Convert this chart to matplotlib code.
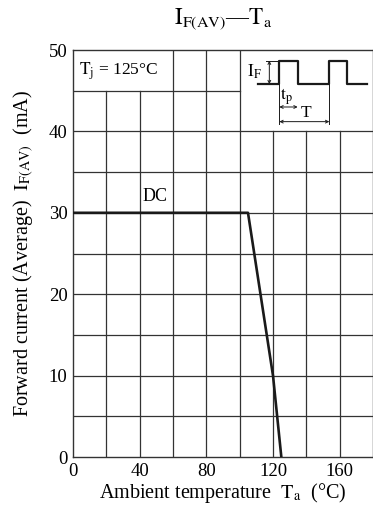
import matplotlib
matplotlib.use("Agg")
import matplotlib.pyplot as plt

# derating curve, Tj = 125 C
temp = [0, 105, 120, 125]
current = [30, 30, 10, 0]

x_ticks = [0, 40, 80, 120, 160]
y_ticks = [0, 10, 20, 30, 40, 50]
grid_x = [20, 40, 60, 80, 100, 120, 140, 160]
grid_y = [5, 10, 15, 20, 25, 30, 35, 40, 45]

# pulse waveform drawn in the inset corner (data coords)
pulse_x = [111, 123.8, 123.8, 134.8, 134.8, 153.8, 153.8, 164.6, 164.6, 176.4]
pulse_y = [45.8, 45.8, 48.7, 48.7, 45.8, 45.8, 48.7, 48.7, 45.8, 45.8]

plt.rcParams["font.family"] = ["Liberation Serif", "DejaVu Serif"]
plt.rcParams["mathtext.fontset"] = "stix"

fig = plt.figure(figsize=(3.73, 5.15), dpi=100)
ax = fig.add_axes([0.1957, 0.1126, 0.8043, 0.7903])
ax.set_xlim(0, 180)
ax.set_ylim(0, 50)

gc = "#333333"
glw = 0.9
for gx in grid_x:
    if gx < 60:
        top = 45
    elif gx > 100:
        top = 40
    else:
        top = 50
    ax.plot([gx, gx], [0, top], color=gc, lw=glw, zorder=1)
for gy in grid_y:
    if gy > 40:
        ax.plot([0, 100], [gy, gy], color=gc, lw=glw, zorder=1)
    else:
        ax.plot([0, 180], [gy, gy], color=gc, lw=glw, zorder=1)

for s in ax.spines.values():
    s.set_color(gc)
    s.set_linewidth(1.0)

ax.plot(temp, current, color="#1a1a1a", lw=1.9, zorder=3)

ax.set_xticks(x_ticks)
ax.set_yticks(y_ticks)
ax.tick_params(length=0, labelsize=13.5, pad=4)

ax.text(49.5, 31.0, "DC", fontsize=13, ha="center", va="bottom")
ax.text(3.5, 47.4, r"$\mathrm{T_j}$ = 125°C", fontsize=12.5, ha="left", va="center")

# inset waveform
ax.plot(pulse_x, pulse_y, color="#1a1a1a", lw=1.6, zorder=3)
ax.plot([123.8, 123.8], [45.8, 40.9], color="#1a1a1a", lw=0.7)
ax.plot([153.8, 153.8], [45.8, 40.9], color="#1a1a1a", lw=0.7)
ap = dict(arrowstyle="<->", lw=0.7, color="#1a1a1a", shrinkA=0, shrinkB=0,
          mutation_scale=5)
ax.annotate("", xy=(117.8, 48.7), xytext=(117.8, 45.8), arrowprops=ap)
ax.plot([116, 123.8], [48.7, 48.7], color="#1a1a1a", lw=0.7)
ax.annotate("", xy=(123.8, 43.0), xytext=(134.8, 43.0), arrowprops=ap)
ax.annotate("", xy=(123.8, 41.2), xytext=(153.8, 41.2), arrowprops=ap)
ax.text(109, 47.3, r"$\mathrm{I_F}$", fontsize=12.5, ha="center", va="center")
ax.text(127.8, 44.3, r"$\mathrm{t_p}$", fontsize=12.5, ha="center", va="center")
ax.text(140, 42.2, "T", fontsize=12.5, ha="center", va="center")

ax.set_xlabel(r"Ambient temperature  $\mathrm{T_a}$  (°C)", fontsize=14.5, labelpad=1)
ax.set_ylabel(r"Forward current (Average)  $\mathrm{I_{F(AV)}}$  (mA)", fontsize=14.5,
              labelpad=9)
fig.text(0.597, 0.963, r"$\mathrm{I_{F(AV)}}$—$\mathrm{T_a}$", fontsize=16.5,
         ha="center", va="center")

fig.savefig("out.png", dpi=100)
